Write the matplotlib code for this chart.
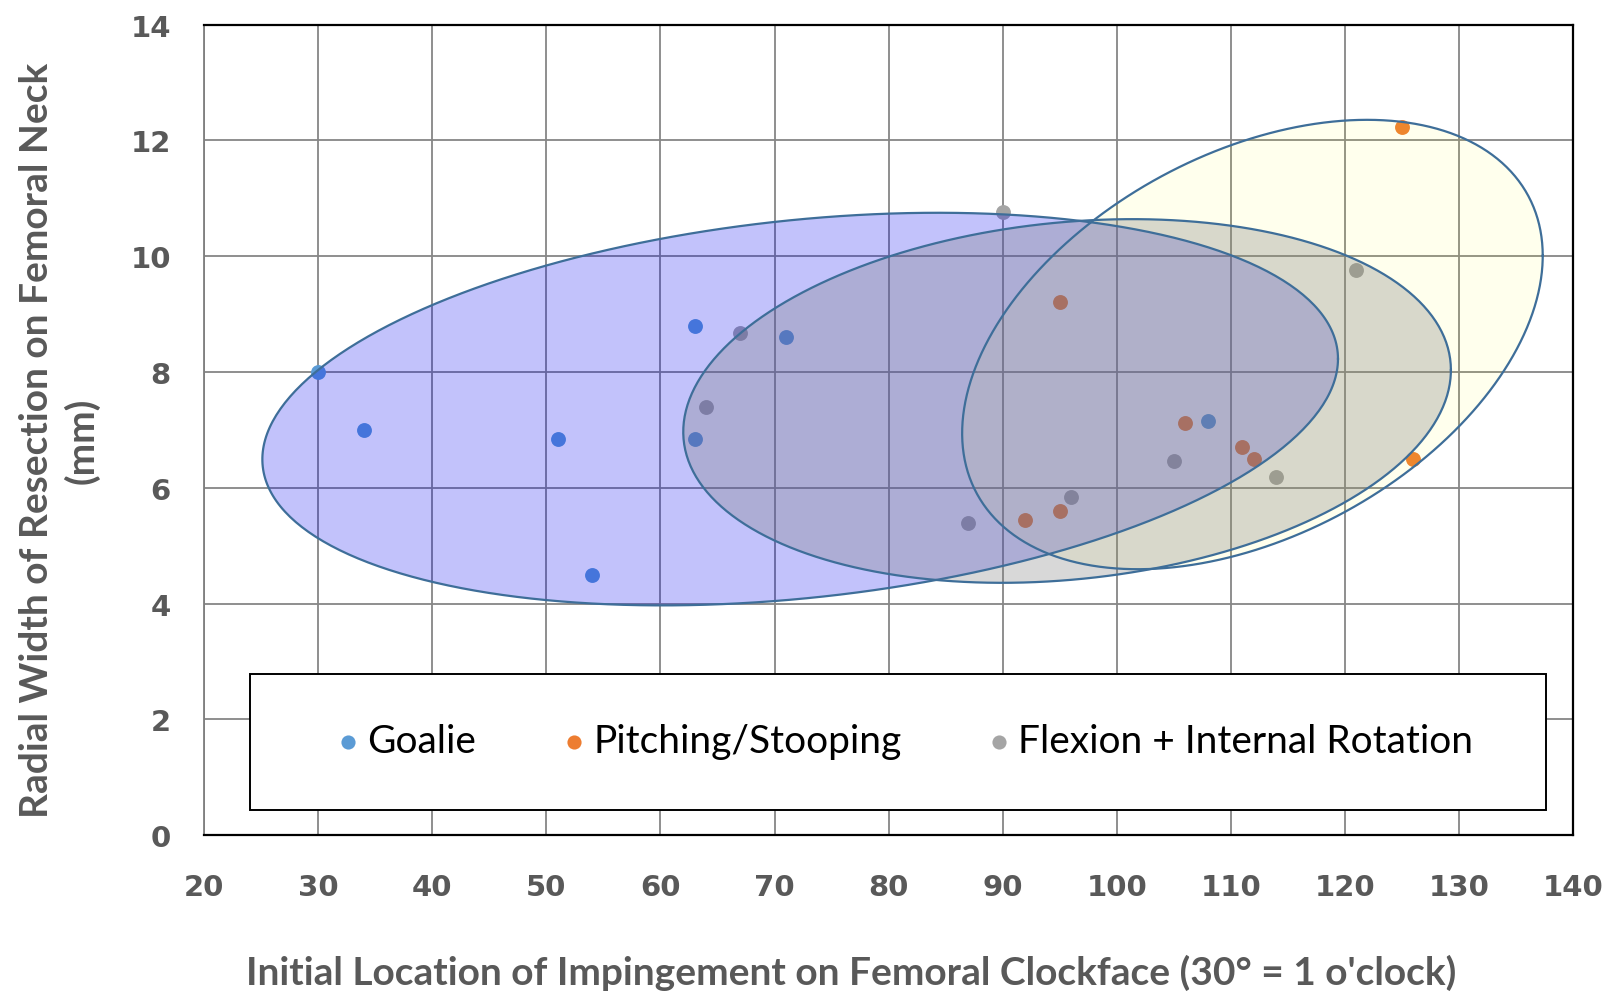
import numpy as np
import matplotlib
matplotlib.use("Agg")
import matplotlib.pyplot as plt
from matplotlib.patches import Rectangle

# data
goalie_x = [30, 34, 51, 54, 63, 63, 71, 108]
goalie_y = [8.0, 7.0, 6.85, 4.5, 8.8, 6.85, 8.6, 7.15]

pitch_x = [125, 95, 106, 111, 112, 126, 92, 95]
pitch_y = [12.23, 9.21, 7.12, 6.70, 6.50, 6.50, 5.45, 5.60]

flex_x = [90, 121, 67, 64, 105, 114, 96, 87]
flex_y = [10.77, 9.77, 8.68, 7.39, 6.46, 6.18, 5.84, 5.40]

labels = ["Goalie", "Pitching/Stooping", "Flexion + Internal Rotation"]
point_colors = ["#5B9BD5", "#ED7D31", "#A5A5A5"]

# ellipses: centre, half width (x), half height (y), x-y correlation
ell_center = [(72.25, 7.36), (95.65, 7.50), (111.9, 8.475)]
ell_halfw = [47.15, 33.65, 25.45]
ell_halfh = [3.39, 3.14, 3.88]
ell_r = [0.256, 0.17, 0.395]
ell_fill = ["#0000F0", "#7F7F7F", "#FFFF00"]
ell_alpha = [0.24, 0.30, 0.07]
ell_order = [2.0, 2.2, 2.1]

xticks = np.arange(20, 141, 10)
yticks = np.arange(0, 15, 2)

fig = plt.figure(figsize=(16.09, 9.95), dpi=100)
ax = fig.add_axes([0.1269, 0.1595, 0.8507, 0.8148])

ax.set_xlim(20, 140)
ax.set_ylim(0, 14)
ax.set_xticks(xticks)
ax.set_yticks(yticks)
ax.grid(True, color="#868686", lw=1.3, zorder=0.5)
ax.set_axisbelow(True)
ax.tick_params(length=0, labelsize=21, labelcolor="#595959")
ax.tick_params(axis="x", pad=27)
ax.tick_params(axis="y", pad=24)
for lab in ax.get_xticklabels() + ax.get_yticklabels():
    lab.set_fontweight("bold")
for s in ["top", "right", "bottom"]:
    ax.spines[s].set_color("black")
    ax.spines[s].set_linewidth(1.6)
ax.spines["left"].set_color("#7F7F7F")
ax.spines["left"].set_linewidth(1.3)

xs = [goalie_x, pitch_x, flex_x]
ys = [goalie_y, pitch_y, flex_y]
for x, y, c, l in zip(xs, ys, point_colors, labels):
    ax.scatter(x, y, s=115, color=c, label=l, zorder=1.5, linewidths=0)

t = np.linspace(0, 2 * np.pi, 400)
for (cx, cy), hw, hh, r, fc, a, z in zip(ell_center, ell_halfw, ell_halfh,
                                         ell_r, ell_fill, ell_alpha, ell_order):
    ex = cx + hw * np.cos(t)
    ey = cy + hh * (r * np.cos(t) + np.sqrt(1 - r * r) * np.sin(t))
    ax.fill(ex, ey, color=fc, alpha=a, lw=0, zorder=z)
    ax.plot(ex, ey, color="#3E6E99", lw=1.6, zorder=3)

# legend box
box = Rectangle((0.0333, 0.0314), 0.9467, 0.1671, transform=ax.transAxes,
                facecolor="white", edgecolor="black", lw=1.4, zorder=4)
ax.add_patch(box)
leg = ax.legend(loc="center", bbox_to_anchor=(0.509, 0.1165), ncol=3,
                frameon=False, markerscale=0.95,
                handletextpad=0.0, columnspacing=2.0, handlelength=1.0,
                prop={"family": "Lato", "size": 28})
leg.set_zorder(5)

fig.text(0.529, 0.022, "Initial Location of Impingement on Femoral Clockface (30\u00b0 = 1 o'clock)",
         ha="center", va="center", fontsize=28, fontweight="bold",
         color="#595959", family="Lato")
fig.text(0.037, 0.557, "Radial Width of Resection on Femoral Neck\n(mm)",
         ha="center", va="center", rotation=90, multialignment="center",
         fontsize=28, fontweight="bold", color="#595959", family="Lato",
         linespacing=1.3)

fig.savefig("out.png", dpi=100)
